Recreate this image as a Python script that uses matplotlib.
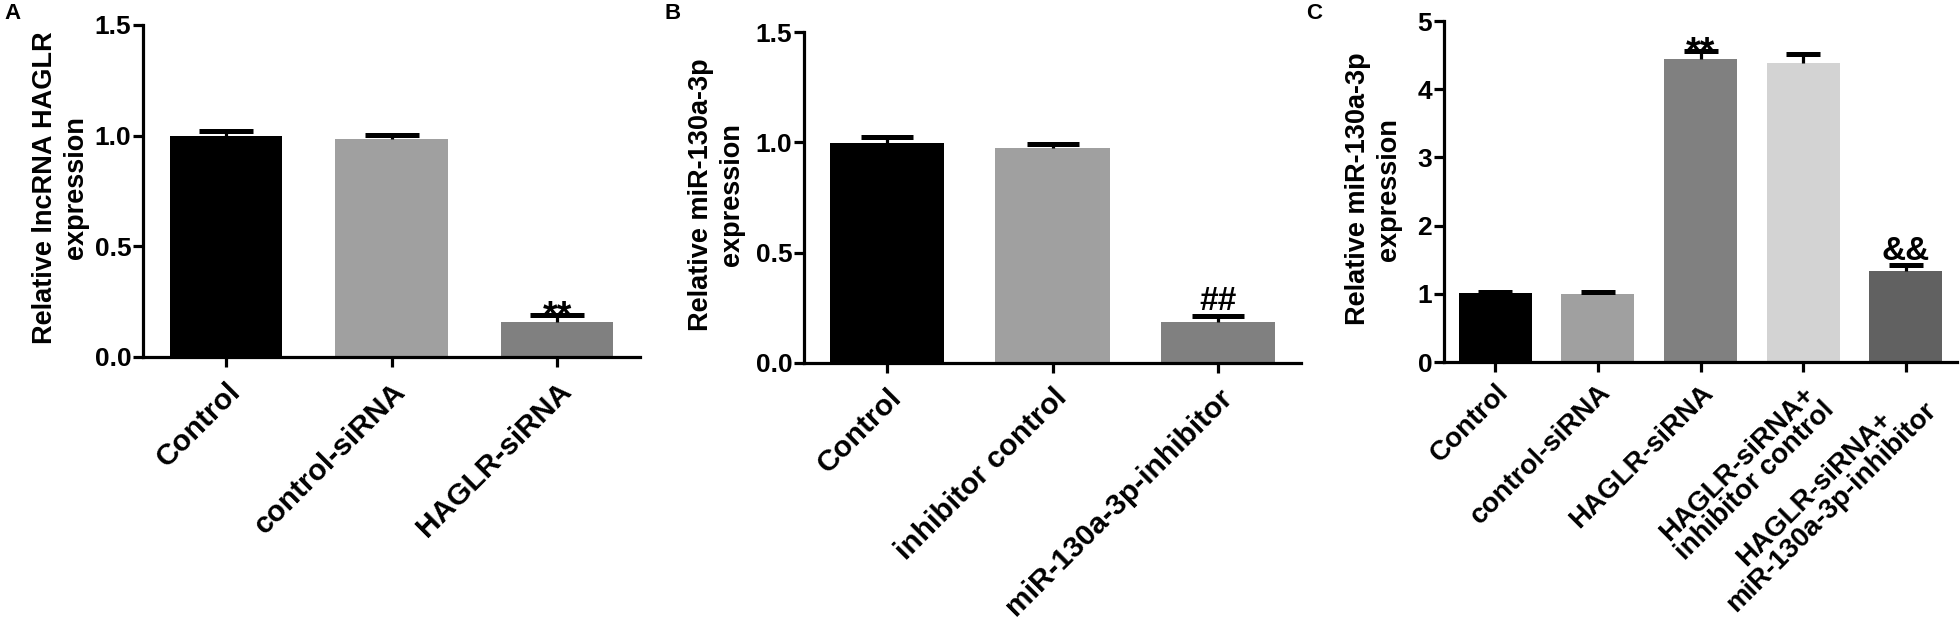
import matplotlib
matplotlib.use("Agg")
import matplotlib.pyplot as plt
import matplotlib.transforms as mtransforms
import numpy as np

plt.rcParams['font.family'] = ['Liberation Sans', 'DejaVu Sans']
plt.rcParams['font.weight'] = 'bold'

# ---------------- data ----------------
a_labels = ['Control', 'control-siRNA', 'HAGLR-siRNA']
a_values = [1.00, 0.983, 0.158]
a_errors = [0.02, 0.02, 0.034]
a_marks = ['', '', '**']

b_labels = ['Control', 'inhibitor control', 'miR-130a-3p-inhibitor']
b_values = [0.995, 0.973, 0.185]
b_errors = [0.03, 0.02, 0.03]
b_marks = ['', '', '##']

c_labels = ['Control', 'control-siRNA', 'HAGLR-siRNA',
            'HAGLR-siRNA+\ninhibitor control',
            'HAGLR-siRNA+\nmiR-130a-3p-inhibitor']
c_values = [1.01, 0.99, 4.436, 4.385, 1.34]
c_errors = [0.01, 0.03, 0.125, 0.13, 0.075]
c_marks = ['', '', '**', '', '&&']

ab_colors = ['#000000', '#a0a0a0', '#808080']
c_colors = ['#000000', '#a0a0a0', '#808080', '#d3d3d3', '#616161']

a_yticks = [0.0, 0.5, 1.0, 1.5]
a_yticklabels = ['0.0', '0.5', '1.0', '1.5']
c_yticks = [0, 1, 2, 3, 4, 5]
c_yticklabels = ['0', '1', '2', '3', '4', '5']

a_ylabel = 'Relative lncRNA HAGLR\nexpression'
b_ylabel = 'Relative miR-130a-3p\nexpression'
c_ylabel = 'Relative miR-130a-3p\nexpression'

# ---------------- figure ----------------
W, H = 1960, 630
fig = plt.figure(figsize=(W / 100, H / 100), dpi=100)


def px_axes(left, right, top, bottom):
    return fig.add_axes([left / W, (H - bottom) / H, (right - left) / W, (bottom - top) / H])


LW = 2.3


def panel(ax, labels, values, errors, colors, marks, ylim, yticks, yticklabels,
          ylabel, width, capsize, ylabel_xy, xfs, xpad):
    n = len(values)
    x = np.arange(n)
    ax.bar(x, values, width=width, color=colors, edgecolor='none', zorder=2)
    eb = ax.errorbar(x, values, yerr=[np.zeros(n), errors], fmt='none', ecolor='black',
                     elinewidth=LW, capsize=capsize, capthick=3.6, zorder=3)
    # hide lower caps (GraphPad style, upper error only)
    caps = eb[1]
    if len(caps) == 2:
        caps[0].set_visible(False)
    ax.set_xlim(-0.5, n - 0.5)
    ax.set_ylim(*ylim)
    ax.set_yticks(yticks)
    ax.set_yticklabels(yticklabels, fontsize=19, fontweight='bold')
    ax.set_xticks(x)
    ax.set_xticklabels(labels, rotation=45, ha='right', va='top',
                       rotation_mode='anchor', fontsize=xfs, fontweight='bold',
                       multialignment='center', linespacing=0.95)
    offset = mtransforms.ScaledTranslation(6 / 100, 0, fig.dpi_scale_trans)
    for lab in ax.get_xticklabels():
        lab.set_transform(lab.get_transform() + offset)
    for s in ['top', 'right']:
        ax.spines[s].set_visible(False)
    for s in ['left', 'bottom']:
        ax.spines[s].set_linewidth(LW)
    ax.tick_params(axis='both', direction='out', length=7.5, width=LW, color='black')
    ax.tick_params(axis='y', pad=1)
    ax.tick_params(axis='x', pad=xpad)
    ax.set_ylabel(ylabel, fontsize=19.5, fontweight='bold', linespacing=1.25,
                  va='center', ha='center')
    ax.yaxis.set_label_coords(*ylabel_xy)
    for xi, v, e, m in zip(x, values, errors, marks):
        if not m:
            continue
        if m.startswith('*'):
            ax.annotate(m, (xi, v + e), xytext=(0, -9), textcoords='offset points',
                        ha='center', va='baseline', fontsize=27, fontweight='bold')
        else:
            ax.annotate(m, (xi, v + e), xytext=(0, 4), textcoords='offset points',
                        ha='center', va='baseline', fontsize=24, fontweight='bold')


axA = px_axes(143, 640, 25, 357)
panel(axA, a_labels, a_values, a_errors, ab_colors, a_marks, (0, 1.5), a_yticks,
      a_yticklabels, a_ylabel, 0.68, 19.5, (-0.167, 0.509), 21.5, 7)

axB = px_axes(804, 1301, 32, 363)
panel(axB, b_labels, b_values, b_errors, ab_colors, b_marks, (0, 1.5), a_yticks,
      a_yticklabels, b_ylabel, 0.69, 18.5, (-0.177, 0.51), 21.5, 7)

axC = px_axes(1444, 1957, 21, 362)
panel(axC, c_labels, c_values, c_errors, c_colors, c_marks, (0, 5), c_yticks,
      c_yticklabels, c_ylabel, 0.71, 12, (-0.138, 0.507), 20, 5)

for lbl, xp in [('A', 4), ('B', 664), ('C', 1306)]:
    fig.text(xp / W, 1 - 3 / H, lbl, fontsize=16, fontweight='bold', ha='left', va='top')

fig.savefig('out.png', dpi=100)
